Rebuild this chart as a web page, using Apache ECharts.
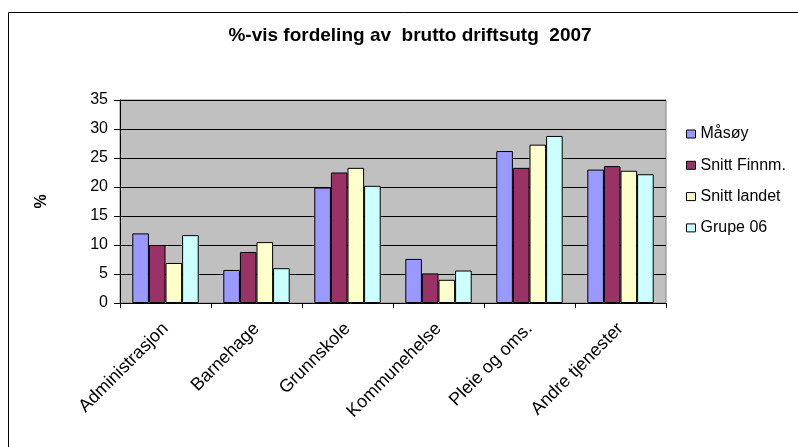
<!DOCTYPE html>
<html>
<head>
<meta charset="utf-8">
<script src="https://cdn.jsdelivr.net/npm/echarts@6/dist/echarts.min.js"></script>
<style>
  html, body { margin: 0; padding: 0; background: #fff; }
  #main { width: 798px; height: 447px; }
</style>
</head>
<body>
<div id="main"></div>
<script>
// kategorier og serier lest av figuren
const categories = ["Administrasjon", "Barnehage", "Grunnskole", "Kommunehelse", "Pleie og oms.", "Andre tjenester"];
const masoy = [12.0, 5.7, 19.9, 7.6, 26.2, 23.0];
const snittFinnm = [10.0, 8.8, 22.5, 5.1, 23.3, 23.6];
const snittLandet = [6.9, 10.5, 23.3, 4.0, 27.3, 22.8];
const grupe06 = [11.7, 6.0, 20.2, 5.6, 28.8, 22.2];
const seriesNames = ["Måsøy", "Snitt Finnm.", "Snitt landet", "Grupe 06"];
const seriesColors = ["#9999FF", "#993366", "#FFFFCC", "#CCFFFF"];

const font = "Arial, 'Liberation Sans', sans-serif";
const chart = echarts.init(document.getElementById("main"));

function bar(name, data, color) {
  return {
    name: name,
    type: "bar",
    data: data,
    barGap: "0%",
    barCategoryGap: "27%",
    itemStyle: { color: color, borderColor: "#000", borderWidth: 1 }
  };
}

chart.setOption({
  animation: false,
  backgroundColor: "#fff",
  textStyle: { fontFamily: font },
  graphic: [
    {
      type: "rect",
      shape: { x: 8.5, y: 12.5, width: 820, height: 460 },
      style: { fill: "none", stroke: "#000", lineWidth: 1 },
      silent: true
    }
  ],
  title: {
    text: "%-vis fordeling av  brutto driftsutg  2007",
    left: 410,
    top: 26,
    padding: 0,
    textAlign: "center",
    textStyle: { fontFamily: font, fontSize: 19, fontWeight: "bold", color: "#000" }
  },
  legend: {
    orient: "vertical",
    left: 686,
    top: 126,
    itemWidth: 9,
    itemHeight: 8,
    itemGap: 15.3,
    padding: 0,
    icon: "rect",
    data: seriesNames,
    textStyle: { fontFamily: font, fontSize: 16, color: "#000" },
    itemStyle: { borderColor: "#000", borderWidth: 1 }
  },
  grid: {
    left: 120,
    top: 100,
    width: 546,
    height: 203,
    show: true,
    backgroundColor: "#C0C0C0",
    borderColor: "#808080",
    borderWidth: 1,
    containLabel: false
  },
  xAxis: {
    type: "category",
    data: categories,
    axisLine: { lineStyle: { color: "#000", width: 1 } },
    axisTick: { show: true, length: 5, lineStyle: { color: "#000" } },
    axisLabel: { rotate: 45, margin: 23, interval: 0, fontSize: 18, color: "#000", fontFamily: font }
  },
  yAxis: {
    type: "value",
    min: 0,
    max: 35,
    interval: 5,
    name: "%",
    nameLocation: "middle",
    nameRotate: 90,
    nameGap: 70,
    nameTextStyle: { fontFamily: font, fontSize: 16, fontWeight: "bold", color: "#000" },
    axisLine: { show: true, lineStyle: { color: "#000", width: 1 } },
    axisTick: { show: true, length: 6, lineStyle: { color: "#000" } },
    axisLabel: { margin: 12, fontSize: 16, color: "#000", fontFamily: font },
    splitLine: { show: true, lineStyle: { color: "#000", width: 1 } }
  },
  series: [
    bar(seriesNames[0], masoy, seriesColors[0]),
    bar(seriesNames[1], snittFinnm, seriesColors[1]),
    bar(seriesNames[2], snittLandet, seriesColors[2]),
    bar(seriesNames[3], grupe06, seriesColors[3])
  ]
});
</script>
</body>
</html>
